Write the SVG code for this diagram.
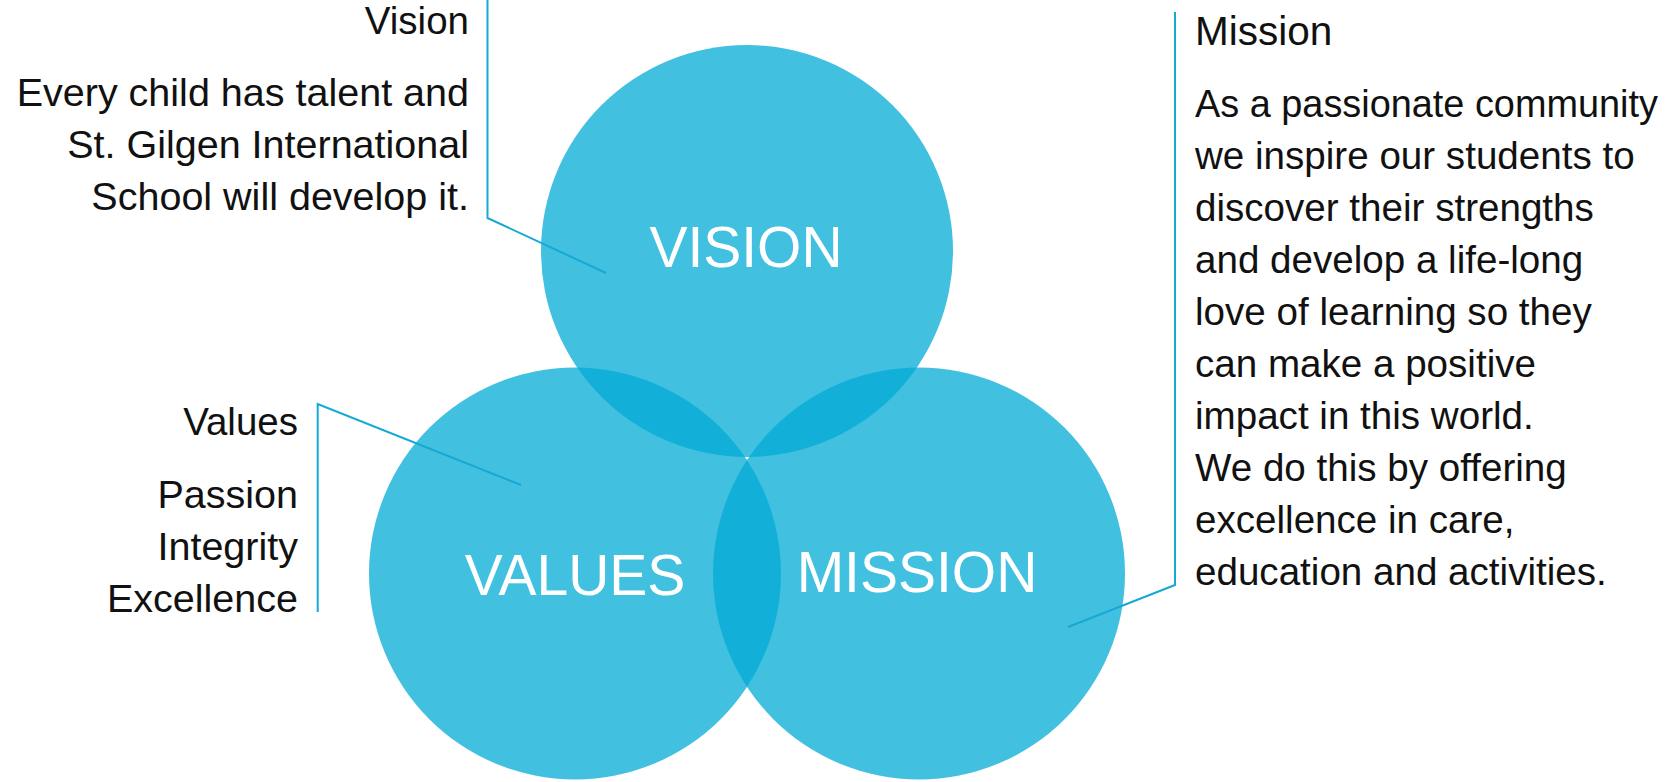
<svg xmlns="http://www.w3.org/2000/svg" width="1667" height="782" viewBox="0 0 1667 782">
<style>
.c{fill:#03ABD6;fill-opacity:0.75}
.lbl{font-family:"Liberation Sans",Arial,sans-serif;font-size:57px;fill:#fff;text-anchor:middle}
.h{font-family:"Liberation Sans",Arial,sans-serif;font-size:38.5px;fill:#111}
.b{font-family:"Liberation Sans",Arial,sans-serif;font-size:39.5px;fill:#111}
.m{font-family:"Liberation Sans",Arial,sans-serif;font-size:38.6px;fill:#111}
.r{text-anchor:end}
.ln{fill:none;stroke:#16A9D6;stroke-width:2}
</style>
<rect width="1667" height="782" fill="#fff"/>
<g id="vision">
<circle class="c" cx="747" cy="251" r="206"/>
<text class="lbl" x="746" y="267">VISION</text>
</g>
<g id="values">
<circle class="c" cx="575" cy="573.5" r="206"/>
<text class="lbl" x="575" y="595">VALUES</text>
</g>
<g id="mission">
<circle class="c" cx="919" cy="573.5" r="206"/>
<text class="lbl" x="917" y="592">MISSION</text>
</g>
<g id="connectors">
<polyline class="ln" points="487.5,0 487.5,218 606,273"/>
<polyline class="ln" points="317.7,612 317.7,404 521,485"/>
<polyline class="ln" points="1175,12 1175,585 1068,627"/>
</g>
<g id="vision-text">
<text class="h r" x="469" y="34">Vision</text>
<text class="b r" x="469" y="106">Every child has talent and</text>
<text class="b r" x="469" y="158">St. Gilgen International</text>
<text class="b r" x="469" y="210">School will develop it.</text>
</g>
<g id="values-text">
<text class="h r" x="298" y="435">Values</text>
<text class="b r" x="298" y="508">Passion</text>
<text class="b r" x="298" y="560">Integrity</text>
<text class="b r" x="298" y="612">Excellence</text>
</g>
<g id="mission-text">
<text class="h" x="1195" y="45" style="font-size:40.5px">Mission</text>
<text class="m" x="1195" y="117" textLength="463" lengthAdjust="spacingAndGlyphs">As a passionate community</text>
<text class="m" x="1195" y="169">we inspire our students to</text>
<text class="m" x="1195" y="221">discover their strengths</text>
<text class="m" x="1195" y="273">and develop a life-long</text>
<text class="m" x="1195" y="325">love of learning so they</text>
<text class="m" x="1195" y="377">can make a positive</text>
<text class="m" x="1195" y="429">impact in this world.</text>
<text class="m" x="1195" y="481">We do this by offering</text>
<text class="m" x="1195" y="533">excellence in care,</text>
<text class="m" x="1195" y="585">education and activities.</text>
</g>
</svg>
